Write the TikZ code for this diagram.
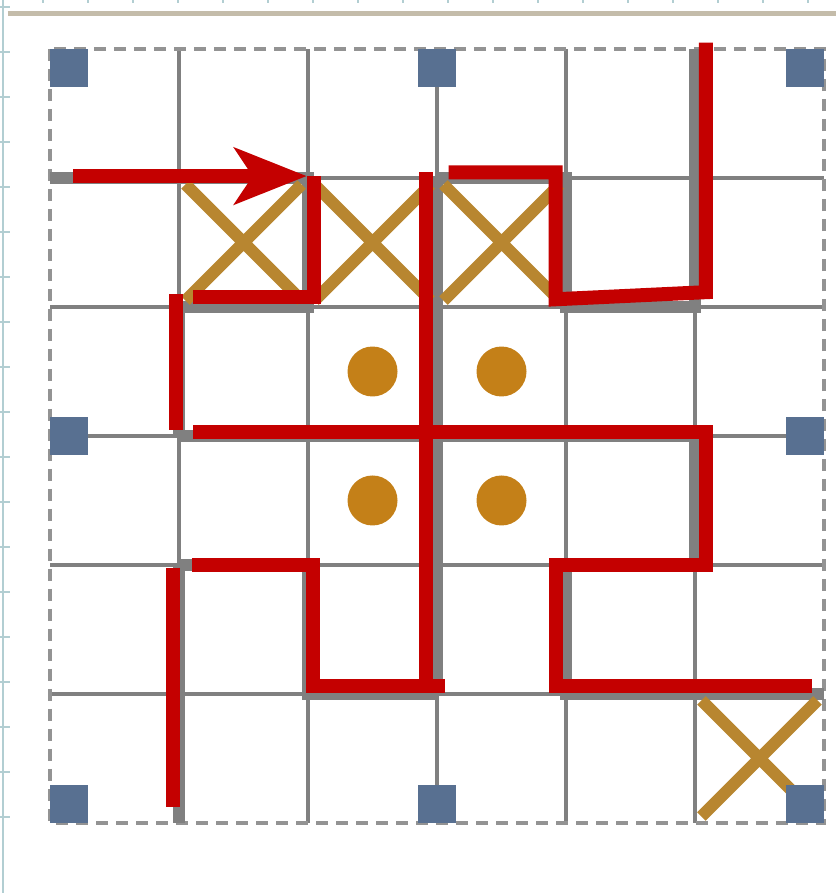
\documentclass[tikz,border=0pt]{standalone}
\usepackage{xcolor}
\usetikzlibrary{arrows.meta}

\definecolor{cutred}{RGB}{196,0,0}
\definecolor{wallgray}{RGB}{128,128,128}
\definecolor{pinblue}{RGB}{88,112,145}
\definecolor{crossgold}{RGB}{184,134,48}
\definecolor{dotgold}{RGB}{196,128,24}
\definecolor{rulerline}{RGB}{178,206,210}
\definecolor{topband}{RGB}{196,188,170}

\begin{document}
\begin{tikzpicture}[
  x=64.5pt, y=-64.5pt,
  gridline/.style={draw=wallgray, line width=2pt},
  border/.style={draw=wallgray!85, line width=2pt, dash pattern=on 6pt off 4pt},
  wall/.style={draw=wallgray, line width=6pt},
  cut/.style={draw=cutred, line width=7pt},
  cross/.style={draw=crossgold, line width=6pt},
  pin/.style={rectangle, fill=pinblue, minimum size=19pt, inner sep=0pt},
  dot/.style={circle, fill=dotgold, minimum size=25pt, inner sep=0pt},
  ruler/.style={draw=rulerline, line width=0.8pt},
]
\useasboundingbox[fill=white] (-0.388,-0.380) rectangle (6.093,6.543);

% Ruler marks of the screenshot
\draw[ruler] (-0.364,-0.380) -- (-0.364,6.543);
\foreach \k in {0,...,18}
  \draw[ruler] (-0.388,-0.326+0.349*\k) -- (-0.310,-0.326+0.349*\k);
\foreach \k in {0,...,17}
  \draw[ruler] (-0.055+0.349*\k,-0.380) -- (-0.055+0.349*\k,-0.355);
\draw[draw=topband, line width=2.5pt] (-0.326,-0.279) -- (6.093,-0.279);

% Grid
\foreach \i in {1,...,5} {
  \draw[gridline] (\i,0) -- (\i,6);
  \draw[gridline] (0,\i) -- (6,\i);
}
\draw[border] (0,0) rectangle (6,6);

% Walls along the cut
\draw[wall] (0,1) -- (2,1) -- (2,2) -- (1,2) -- (1,3);
\draw[wall] (3,1) -- (3,5);
\draw[wall] (3,1) -- (4,1) -- (4,2) -- (5,2) -- (5,0);
\draw[wall] (1,3) -- (5,3) -- (5,4) -- (4,4) -- (4,5) -- (6,5);
\draw[wall] (1,4) -- (2,4) -- (2,5) -- (3,5);
\draw[wall] (1,4) -- (1,6);

% Crossed cells
\foreach \c/\r in {1/1, 2/1, 3/1, 5/5}
  \draw[cross] (\c+0.05,\r+0.05) -- (\c+0.95,\r+0.95)
               (\c+0.95,\r+0.05) -- (\c+0.05,\r+0.95);

% Dots
\foreach \c/\r in {2/2, 3/2, 2/3, 3/3}
  \node[dot] (dot-\c-\r) at (\c+0.5,\r+0.5) {};

% Pins on the border
\node[pin, anchor=north west] (pin-nw) at (0,0) {};
\node[pin, anchor=north] (pin-n) at (3,0) {};
\node[pin, anchor=north east] (pin-ne) at (6,0) {};
\node[pin, anchor=west] (pin-w) at (0,3) {};
\node[pin, anchor=east] (pin-e) at (6,3) {};
\node[pin, anchor=south west] (pin-sw) at (0,6) {};
\node[pin, anchor=south] (pin-s) at (3,6) {};
\node[pin, anchor=south east] (pin-se) at (6,6) {};

% Cut
\coordinate (entry) at (0.178,0.985);
\coordinate (gate) at (1.99,0.985);
\draw[cut, -{Stealth[length=36pt, width=28pt, inset=9pt]}] (entry) -- (gate);
\draw[cut] (2.045,0.985) -- (2.045,1.926) -- (1.11,1.926);
\draw[cut] (0.977,1.90) -- (0.977,2.95);
\draw[cut] (1.11,2.97) -- (5.085,2.97) -- (5.085,4.0) -- (3.92,4.0)
  -- (3.92,4.94) -- (5.91,4.94);
\draw[cut] (2.915,0.953) -- (2.915,4.97);
\draw[cut] (1.10,4.0) -- (2.035,4.0) -- (2.035,4.94) -- (3.06,4.94);
\draw[cut] (3.09,0.957) -- (3.92,0.957) -- (3.92,1.94) -- (5.085,1.885)
  -- (5.085,-0.05);
\draw[cut] (0.953,4.02) -- (0.953,5.876);

\end{tikzpicture}
\end{document}
